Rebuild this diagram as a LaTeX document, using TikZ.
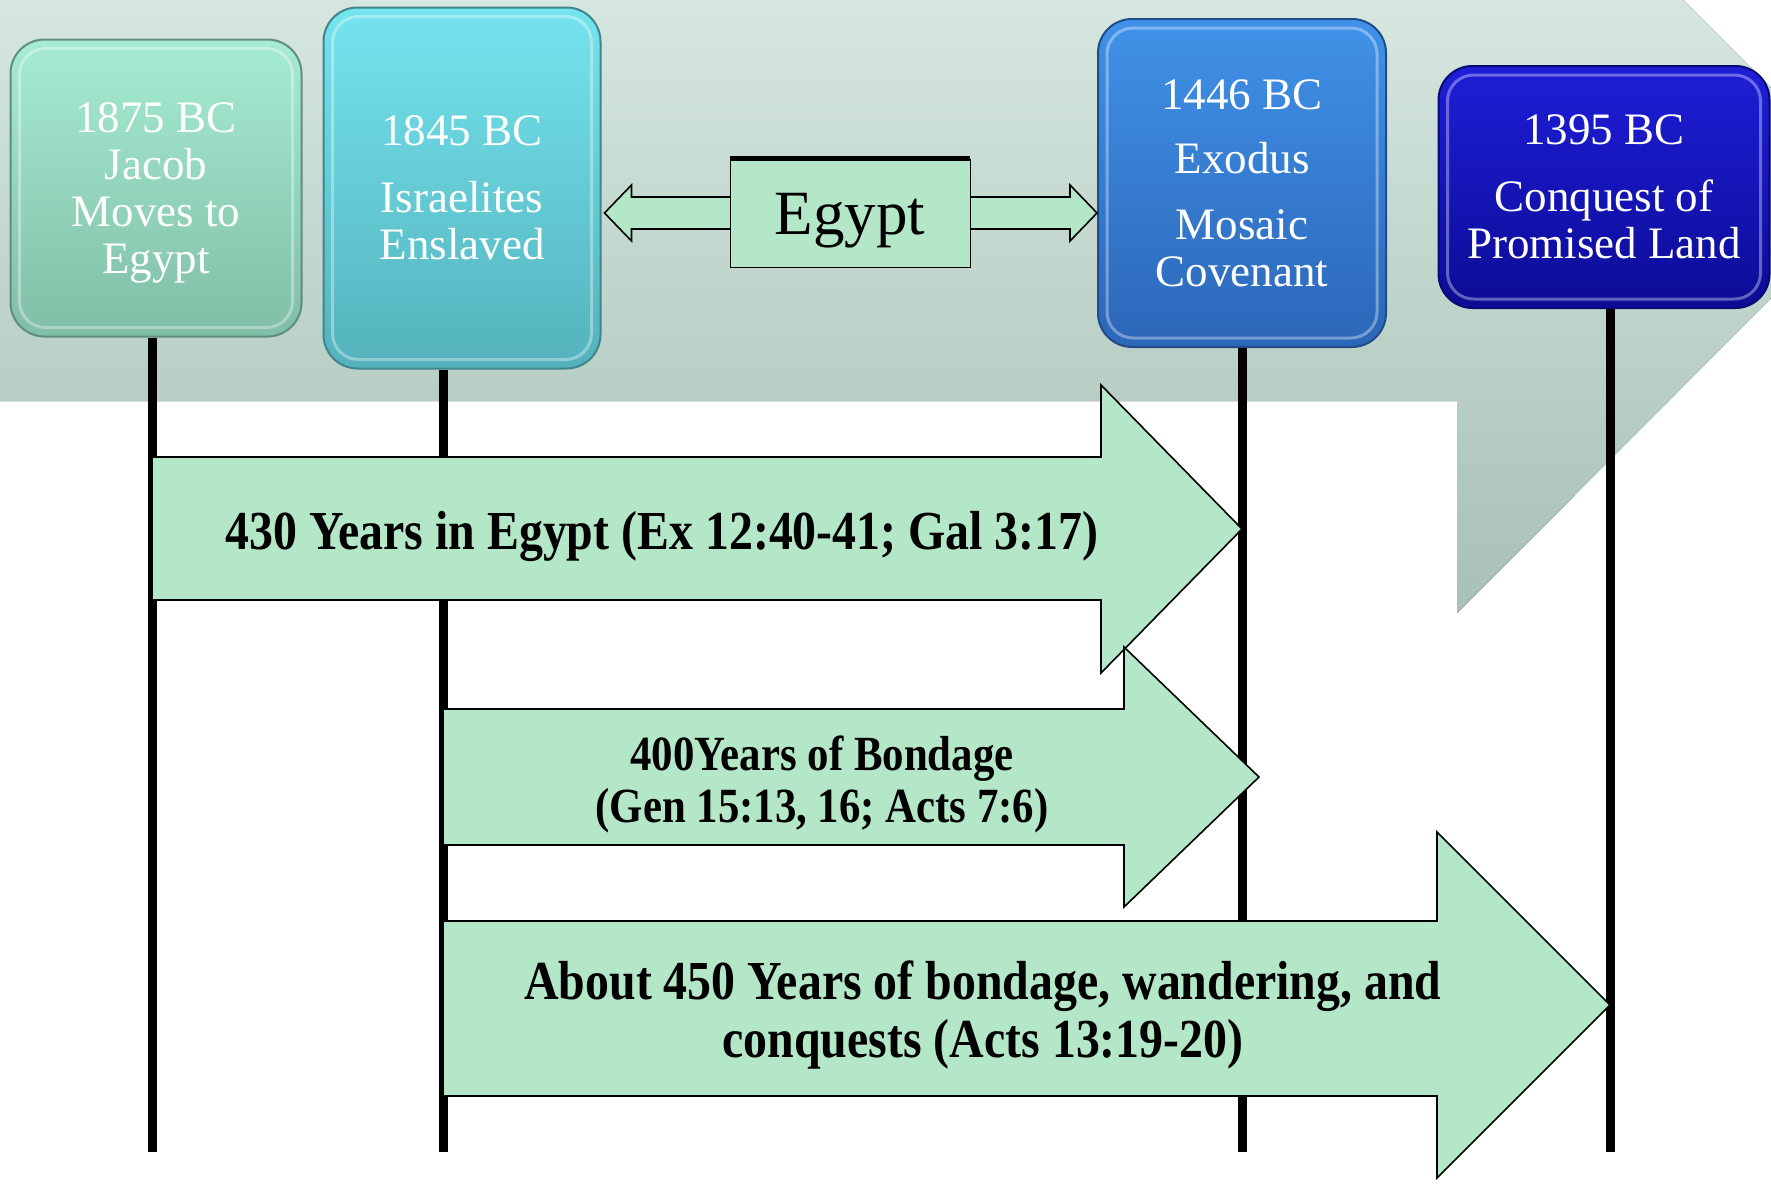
\documentclass[tikz,border=0pt]{standalone}
\usepackage{fontspec}
\setmainfont{Liberation Serif}
\newfontfamily\spanfont[FakeStretch=0.87]{Liberation Serif}
\usetikzlibrary{positioning}

\definecolor{jacobtop}{RGB}{166,236,210}
\definecolor{jacobbot}{RGB}{128,190,165}
\definecolor{slavetop}{RGB}{116,228,238}
\definecolor{slavebot}{RGB}{84,178,188}
\definecolor{exodustop}{RGB}{64,146,232}
\definecolor{exodusbot}{RGB}{44,102,184}
\definecolor{conqtop}{RGB}{30,30,216}
\definecolor{conqbot}{RGB}{12,12,150}
\definecolor{spangreen}{RGB}{180,231,199}
\definecolor{bandtop}{RGB}{230,245,238}
\definecolor{bandbot}{RGB}{168,192,182}

\begin{document}
\begin{tikzpicture} [
                x=0.5pt, y=-0.5pt,
                datebox/.style={
                    rectangle,
                    rounded corners=17pt,
                    line width=1pt,
                    text=white,
                    align=center,
                    inner sep=0pt,
                    font=\fontsize{22.5}{23.5}\selectfont
                },
                gloss/.style={
                    white,
                    opacity=0.35,
                    line width=1.5pt,
                    rounded corners=13pt
                },
                timeline/.style={
                    line width=4.5pt,
                    black
                },
                spanarrow/.style={
                    draw=black,
                    line width=0.8pt,
                    fill=spangreen,
                    line join=miter
                },
                spantext/.style={
                    align=center,
                    inner sep=0pt,
                    font=\spanfont\bfseries\fontsize{27.5}{29}\selectfont
                }
            ]

                \useasboundingbox (0,0) rectangle (1771,1183);
                \clip (0,0) rectangle (1771,1183);

                % background band
                \fill[top color=bandtop, bottom color=bandbot]
                    (-10,-30) -- (1457,-30) -- (1457,-227) -- (1876,193) -- (1457,613) -- (1457,401) -- (-10,401) -- cycle;

                \node[datebox, minimum width=145.5pt, minimum height=148.5pt, top color=jacobtop, bottom color=jacobbot, draw=jacobbot!75!black]          (jacob)     at (156,188)    {};
                \node[datebox, yshift=-2.3pt]                                                                                                               (jacobtext) at (jacob)      {1875 BC\\Jacob\\Moves to\\Egypt};
                \node[datebox, minimum width=138.5pt, minimum height=180.5pt, top color=slavetop, bottom color=slavebot, draw=slavebot!75!black]          (enslaved)  at (462,188)    {1845 BC\\[10pt]Israelites\\Enslaved};
                \node[datebox, minimum width=144pt, minimum height=164pt, top color=exodustop, bottom color=exodusbot, draw=exodusbot!75!black]           (exodus)    at (1242,183)   {1446 BC\\[8.5pt]Exodus\\[9.5pt]Mosaic\\Covenant};
                \node[datebox, minimum width=165.5pt, minimum height=121pt, top color=conqtop, bottom color=conqbot, draw=conqbot!75!black]                (conquest)  at (1604,187)   {1395 BC\\[10pt]Conquest of\\Promised Land};

                \foreach \b in {jacob,enslaved,exodus,conquest}
                    \draw[gloss] ([shift={(5pt,-5pt)}]\b.north west) rectangle ([shift={(-5pt,5pt)}]\b.south east);

                % Egypt
                \node[rectangle, minimum width=120pt, minimum height=54pt, inner sep=0pt] (egypt) at (850,213) {};
                \coordinate (egl) at ([xshift=1.5pt]enslaved.east |- egypt.center);
                \coordinate (egr) at (exodus.west |- egypt.center);
                \draw[spanarrow] (egl) -- ++(27,-28) -- ++(0,12) -- ([shift={(-27,-16)}]egr) -- ++(0,-12) -- (egr)
                    -- ++(-27,28) -- ++(0,-12) -- ([shift={(27,16)}]egl) -- ++(0,12) -- cycle;
                \node[rectangle, draw=black, fill=spangreen, minimum width=120pt, minimum height=54pt, inner sep=0pt] (egyptbox) at (egypt) {};
                \node[font=\fontsize{31.5}{34}\selectfont, inner sep=0pt, yshift=-4pt] (egypttext) at (egypt) {Egypt};
                \draw[line width=2.5pt] (egyptbox.north west) -- (egyptbox.north east);

                % timelines
                \coordinate (t1) at (152,1152);
                \coordinate (t2) at (443,1152);
                \coordinate (t3) at (1242,1152);
                \coordinate (t4) at (1610,1152);
                \draw[timeline] (t1 |- jacob.south)    -- (t1);
                \draw[timeline] (t2 |- enslaved.south) -- (t2);
                \draw[timeline] (t3 |- exodus.south)   -- (t3);
                \draw[timeline] (t4 |- conquest.south) -- (t4);

                % spans
                \draw[spanarrow] (152,457) -- (1101,457) -- (1101,385) -- (1242,529) -- (1101,673) -- (1101,600) -- (152,600) -- cycle;
                \draw[spanarrow] (443,709) -- (1124,709) -- (1124,647) -- (1259,777) -- (1124,907) -- (1124,845) -- (443,845) -- cycle;
                \draw[spanarrow] (443,921) -- (1437,921) -- (1437,832) -- (1610,1005) -- (1437,1178) -- (1437,1096) -- (443,1096) -- cycle;

                \node[spantext] (inegypt)   at (662,536)    {430 Years in Egypt (Ex 12:40-41; Gal 3:17)};
                \node[spantext, font=\spanfont\bfseries\fontsize{24.6}{26}\selectfont] (bondage) at (822,784) {400Years of Bondage\\(Gen 15:13, 16; Acts 7:6)};
                \node[spantext] (wandering) at (983,1015)   {About 450 Years of bondage, wandering, and\\conquests (Acts 13:19-20)};

            \end{tikzpicture}
\end{document}
